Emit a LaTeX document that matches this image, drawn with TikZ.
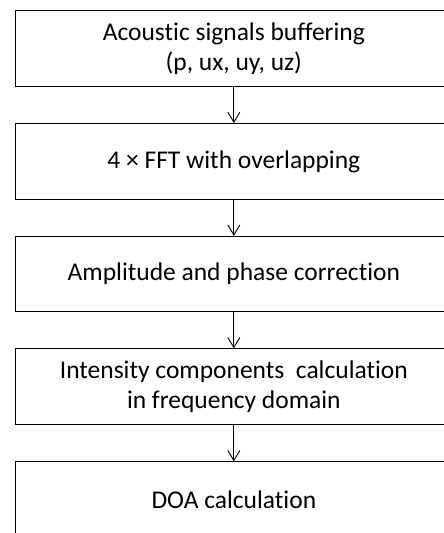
\documentclass[tikz,border=0pt]{standalone}
\usepackage{fontspec}
\setmainfont{Carlito}[Ligatures=NoCommon]
\usetikzlibrary{arrows.meta}
\tikzset{
  stepbox/.style={draw=black, line width=1pt, rectangle, minimum width=436.3pt, minimum height=75.5pt, inner sep=0pt, align=center, font=\fontsize{25.5}{30}\selectfont},
  flow/.style={draw=black, line width=0.9pt, -{Straight Barb[length=10pt,width=12pt,line width=0.9pt]}}
}
\begin{document}
\begin{tikzpicture}[x=1pt,y=-1pt]
\clip (0,0) rectangle (444,533);
\node[stepbox] (b1) at (233.85,48.5) {Acoustic signals buffering\\(p, ux, uy, uz)};
\node[stepbox] (b2) at (233.85,161.4) {4 × FFT with overlapping};
\node[stepbox] (b3) at (233.85,274.1) {Amplitude and phase correction};
\node[stepbox] (b4) at (233.85,386.6) {Intensity components\ \ calculation\\in frequency domain};
\node[stepbox] (b5) at (233.85,499.6) {DOA calculation};
\draw[flow] (b1.south) -- (b2.north);
\draw[flow] (b2.south) -- (b3.north);
\draw[flow] (b3.south) -- (b4.north);
\draw[flow] (b4.south) -- (b5.north);
\end{tikzpicture}
\end{document}
